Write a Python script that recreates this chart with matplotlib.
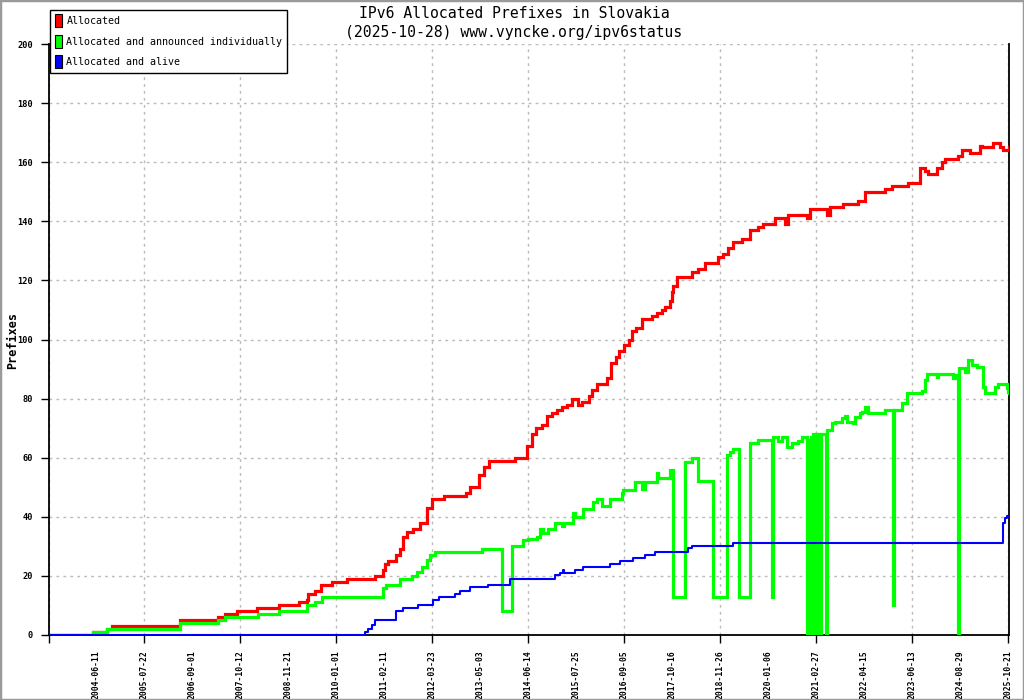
import matplotlib
matplotlib.use('Agg')
import matplotlib.pyplot as plt
from matplotlib.patches import Patch, Rectangle

# ---------------- data ----------------
# x = sample index (48 samples between labelled dates); y = number of prefixes
tick_dates = ['2004-06-11', '2005-07-22', '2006-09-01', '2007-10-12', '2008-11-21',
              '2010-01-01', '2011-02-11', '2012-03-23', '2013-05-03', '2014-06-14',
              '2015-07-25', '2016-09-05', '2017-10-16', '2018-11-26', '2020-01-06',
              '2021-02-27', '2022-04-15', '2023-06-13', '2024-08-29', '2025-10-21']

alloc_x = [0, 45, 59, 64, 132, 170, 177, 189, 209, 231, 251, 259, 260, 267, 273, 284, 299,
           327, 335, 337, 340, 348, 352, 355, 359, 365, 372, 379, 384, 396, 418, 422, 431,
           436, 441, 467, 479, 484, 488, 494, 499, 504, 509, 514, 519, 524, 530, 534, 541,
           544, 549, 559, 563, 568, 571, 576, 581, 584, 588, 594, 604, 609, 614, 617, 622,
           624, 625, 629, 644, 650, 657, 670, 675, 680, 685, 694, 702, 710, 715, 727, 737,
           740, 759, 762, 779, 782, 795, 810, 817, 837, 844, 860, 872, 877, 880, 889, 894,
           897, 910, 914, 922, 932, 934, 945, 952, 955, 961]
alloc_y = [0, 1, 2, 3, 5, 6, 7, 8, 9, 10, 11, 12, 14, 15, 17, 18, 19,
           20, 22, 24, 25, 27, 29, 33, 35, 36, 38, 43, 46, 47, 48, 50, 54,
           57, 59, 60, 64, 68, 70, 71, 74, 75, 76, 77, 78, 80, 78, 79, 81,
           83, 85, 87, 92, 94, 96, 98, 100, 103, 104, 107, 108, 109, 110, 111, 113,
           116, 118, 121, 123, 124, 126, 128, 129, 131, 133, 134, 137, 138, 139, 141, 139,
           142, 141, 144, 142, 145, 146, 147, 150, 151, 152, 153, 158, 157, 156, 158, 160,
           161, 162, 164, 163, 165.5, 165, 166.5, 165, 164, 165]

announced_x = [0, 45, 59, 132, 170, 177, 210, 231, 259, 267, 274, 335, 338, 352, 364, 369,
               374, 379, 382, 387, 434, 454, 464, 475, 480, 489, 492, 495, 500, 507, 514,
               516, 525, 527, 535, 545, 549, 554, 562, 574, 575, 587, 594, 597, 609, 610,
               622, 625, 637, 644, 650, 665, 679, 682, 685, 691, 702, 710, 724, 725, 730,
               734, 739, 744, 750, 754, 758.5, 760, 761, 762.5, 763.5, 765, 766.5, 768,
               769, 770.5, 771.5, 773, 777.5, 778.5, 784, 787, 794, 797, 799, 805, 807,
               812, 814, 817, 820, 837, 845, 846, 854, 859, 874, 877, 879, 889, 890, 905,
               907, 910, 911, 917, 920, 924, 929, 935, 937, 947, 950, 959, 960, 961]
announced_y = [0, 1, 2, 4, 5, 6, 7, 8, 10, 11, 13, 16, 17, 19, 20, 21.4,
               23, 25.4, 27, 28, 29, 8, 30, 32, 32.6, 33.3, 35.8, 34.5, 35.8, 38, 37,
               38, 41.2, 40, 42.5, 45, 46, 43.8, 45.9, 47.9, 49, 51.9, 49.4, 51.9, 54.7, 53,
               55.7, 13, 58.7, 59.8, 52, 13, 61, 62, 63, 13, 65, 66, 13, 67, 65.6,
               67, 63.7, 65, 65.6, 67, 0, 66, 0, 67, 0, 68, 0, 68,
               0, 68, 0, 68, 0, 69.5, 71.6, 72.2, 73.3, 74, 72.2, 71.6, 73.9,
               75, 75.6, 77, 75.2, 76.1, 10, 76.1, 78.4, 82, 82.7, 86.3, 88.3, 87.2, 88.3, 87,
               88, 0, 90.2, 89, 93.1, 91.4, 90.8, 84, 82, 84, 84.9, 83.5, 82.3, 82]

alive_x = [0, 317, 320, 324, 327, 348, 355, 370, 385, 391, 407, 412, 422, 440, 462, 507,
           512, 515, 516, 527, 535, 562, 572, 585, 597, 607, 640, 644, 685, 955, 957, 959, 961]
alive_y = [0, 1, 2, 3.4, 5.1, 8.1, 9.2, 10.3, 11.8, 13, 13.9, 15, 16.1, 17, 19.1, 20.3,
           21.1, 22, 21.1, 22, 23.1, 24, 25.1, 26.2, 27.1, 28.1, 29.3, 30.2, 31.2, 37.8, 39.5,
           40.3, 40.3]

series_labels = ['Allocated', 'Allocated and announced individually', 'Allocated and alive']
series_colors = ['#ff0000', '#00ff00', '#0000ff']

title_lines = ['IPv6 Allocated Prefixes in Slovakia', '(2025-10-28) www.vyncke.org/ipv6status']
y_label = 'Prefixes'

# ---------------- figure ----------------
MONO = ['DejaVu Sans Mono']
fig = plt.figure(figsize=(10.24, 7.0), dpi=100)
fig.patch.set_facecolor('white')
ax = fig.add_axes([48.5 / 1024, 65 / 700, 960.8 / 1024, 591 / 700])

n_labels = len(tick_dates)
step = 48
x_max = 961
ax.set_xlim(0, x_max)
ax.set_ylim(0, 200)

ax.plot(alloc_x, alloc_y, drawstyle='steps-post', color=series_colors[0], lw=2.3,
        solid_joinstyle='miter', zorder=3)
ax.plot(announced_x, announced_y, drawstyle='steps-post', color=series_colors[1], lw=2.3,
        solid_joinstyle='miter', zorder=4)
ax.plot(alive_x, alive_y, drawstyle='steps-post', color=series_colors[2], lw=1.5,
        zorder=5)

# x ticks: marks + grid every 96 samples (major), labels every 48 samples (minor)
ax.xaxis.remove_overlapping_locs = False
mark_pos = [step * 2 * i for i in range(n_labels // 2 + 1)]
ax.set_xticks(mark_pos)
ax.set_xticklabels([''] * len(mark_pos))
ax.tick_params(axis='x', which='major', length=6, width=1, direction='out')
label_pos = [step * (i + 1) for i in range(n_labels)]
ax.set_xticks(label_pos, minor=True)
ax.set_xticklabels(tick_dates, minor=True, rotation=90, family=MONO, fontsize=5.8,
                   fontweight='bold')
ax.tick_params(axis='x', which='minor', length=0, pad=11)

ax.set_yticks(range(0, 201, 20))
ax.set_yticklabels([str(v) for v in range(0, 201, 20)], family=MONO, fontsize=6.2,
                   fontweight='bold')
ax.tick_params(axis='y', length=6, width=1, direction='out', pad=5)

ax.grid(True, axis='both', which='major', color='#bbbbbb', linestyle=(0, (2, 3)), lw=1)
ax.set_axisbelow(True)

for s in ['left', 'bottom', 'right']:
    ax.spines[s].set_color('black')
    ax.spines[s].set_linewidth(1.3)
ax.spines['top'].set_visible(False)

# legend
handles = [Patch(facecolor=c, edgecolor='black', lw=0.8) for c in series_colors]
leg = fig.legend(handles, series_labels, loc='upper left',
                 bbox_to_anchor=(50 / 1024, 1 - 10 / 700), bbox_transform=fig.transFigure,
                 borderaxespad=0, prop={'family': MONO, 'size': 7.2},
                 handlelength=0.75, handleheight=1.6, handletextpad=0.45,
                 labelspacing=0.75, borderpad=0.45, fancybox=False, framealpha=1,
                 edgecolor='black')
leg.get_frame().set_linewidth(1.0)

# titles
fig.text(514 / 1024, 1 - 13 / 700, title_lines[0], ha='center', va='center',
         family=MONO, fontsize=10.6)
fig.text(514 / 1024, 1 - 32 / 700, title_lines[1], ha='center', va='center',
         family=MONO, fontsize=10.6)
fig.text(13 / 1024, 1 - 340 / 700, y_label, rotation=90, ha='center', va='center',
         family=MONO, fontsize=8.5, fontweight='bold')

# outer border
fig.patches.append(Rectangle((0, 0), 1, 1, transform=fig.transFigure, fill=False,
                             edgecolor='#9a9a9a', lw=2.5))

fig.savefig('out.png', dpi=100)
